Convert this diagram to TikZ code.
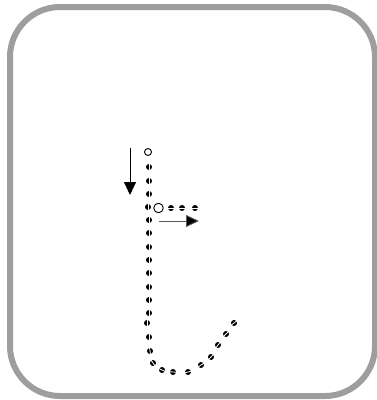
\documentclass[tikz,border=0pt]{standalone}
\usetikzlibrary{arrows.meta}
\begin{document}
\begin{tikzpicture}[x=1pt,y=-1pt,
  frame/.style={draw=black!38,line width=6pt,rounded corners=50pt},
  startcircle/.style={draw=black,line width=0.9pt,fill=white},
  strokearrow/.style={line width=0.9pt,-{Triangle[length=13pt,width=12pt,fill=black]}}]
\useasboundingbox (0,0) rectangle (377,400);
\draw[frame] (10,7) rectangle (375,396);
% stroke dots
\foreach \x/\y/\a in {149/167/90,149/181/90,149/194/90,148/207/90,149/220/90,149/233/90,149/247/90,149/260/90,149/273/90,149/287/90,149/300/90,149/313/90,147/323/90,149/337/90,150/351/82,
  153/363/55,162/370/24,173/372/4,188/372/-14,201/365/-33,211/357/-48,218/345/-52,226/334/-45,234/323/-38,
  171/208/0,182/208/0,195/208/0}{
  \fill[black] (\x,\y) circle [radius=3];
  \draw[white,line width=0.8pt] ({\x-3.6*cos(\a)},{\y-3.6*sin(\a)}) -- ({\x+3.6*cos(\a)},{\y+3.6*sin(\a)});
}
\node[startcircle,circle,minimum size=7pt,inner sep=0pt] (s1) at (148,152) {};
\node[startcircle,circle,minimum size=9.5pt,inner sep=0pt] (s2) at (158.5,208) {};
\coordinate (a1s) at (130,148);
\coordinate (a1e) at (130,195);
\coordinate (a2s) at (159,221);
\coordinate (a2e) at (199,221);
\draw[strokearrow,draw=black] (a1s) -- (a1e);
\draw[strokearrow,draw=black!65] (a2s) -- (a2e);
\end{tikzpicture}
\end{document}
